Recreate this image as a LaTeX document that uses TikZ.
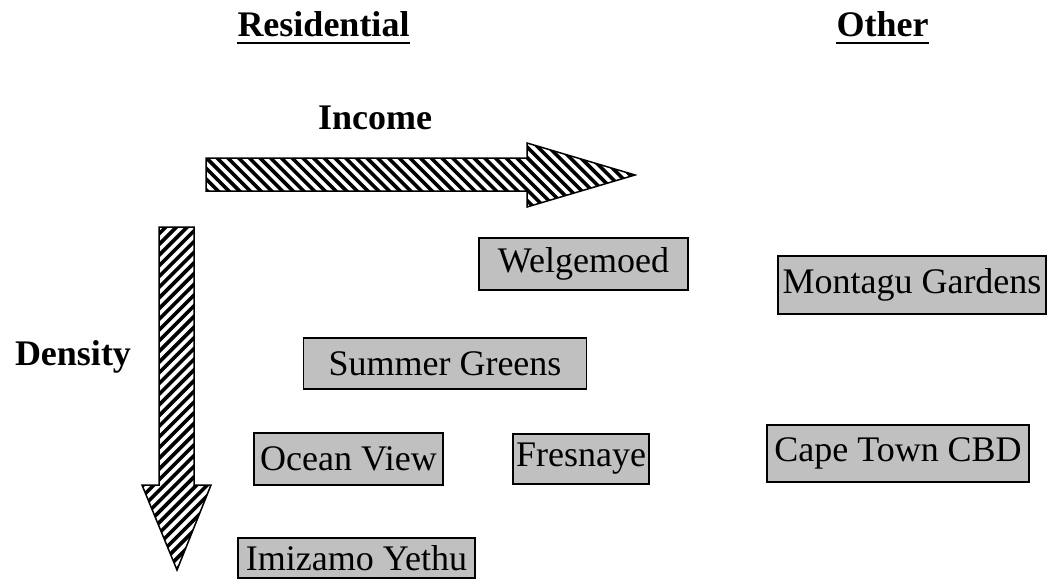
\documentclass[tikz,border=0pt]{standalone}
\usepackage{fontspec}
\setmainfont{Liberation Serif}
\begin{document}
\begin{tikzpicture}[x=1pt,y=-1pt,
  place/.style={draw=black,line width=1.5pt,fill=boxgray,inner sep=0pt,
    font=\fontsize{36}{40}\selectfont},
  heading/.style={inner sep=0pt,anchor=base,font=\fontsize{36}{40}\selectfont\bfseries},
  hatch/.style={line width=3.6pt,black},
  outline/.style={draw=black,line width=1.5pt,line join=miter}]
\definecolor{boxgray}{RGB}{192,192,192}
\useasboundingbox (0,0) rectangle (1050,581);

% headings
\node[heading] (res) at (323.5,36) {Residential};
\node[heading] (oth) at (882.5,36) {Other};
\draw[line width=2.6pt] ([yshift=-7pt]res.base west) -- ([yshift=-7pt]res.base east);
\draw[line width=2.6pt] ([yshift=-7pt]oth.base west) -- ([yshift=-7pt]oth.base east);
\node[heading] (inc) at (375,129) {Income};
\node[heading] (den) at (73,365) {Density};

% horizontal hatched arrow
\begin{scope}
  \clip (206,158) -- (527,158) -- (527,143) -- (635,175) -- (527,207) -- (527,191) -- (206,191) -- cycle;
  \foreach \a in {130,140.7,...,650} \draw[hatch] (\a,135) -- (\a+80,215);
\end{scope}
\draw[outline] (206,158) -- (527,158) -- (527,143) -- (635,175) -- (527,207) -- (527,191) -- (206,191) -- cycle;

% vertical hatched arrow
\begin{scope}
  \clip (159,227) -- (194,227) -- (194,485) -- (211,485) -- (177,570) -- (142,485) -- (159,485) -- cycle;
  \foreach \c in {215,225.7,...,680} \draw[hatch] (135,\c) -- (215,\c-80);
\end{scope}
\draw[outline] (159,227) -- (194,227) -- (194,485) -- (211,485) -- (177,570) -- (142,485) -- (159,485) -- cycle;

% places
\node[place,minimum width=209pt,minimum height=52pt] (wel) at (583.5,264) {Welgemoed};
\node[place,minimum width=268pt,minimum height=58pt] (mon) at (912,285) {Montagu Gardens};
\node[place,minimum width=283pt,minimum height=51pt] (sum) at (445,363.5) {Summer Greens};
\node[place,minimum width=189pt,minimum height=52pt] (oce) at (348.5,459) {Ocean View};
\node[place,minimum width=136pt,minimum height=50pt] (fre) at (581,459) {Fresnaye};
\node[place,minimum width=262pt,minimum height=57pt] (cbd) at (898,453.5) {Cape Town CBD};
\node[place,minimum width=237pt,minimum height=40pt] (imi) at (356.5,558) {Imizamo Yethu};
\end{tikzpicture}
\end{document}
